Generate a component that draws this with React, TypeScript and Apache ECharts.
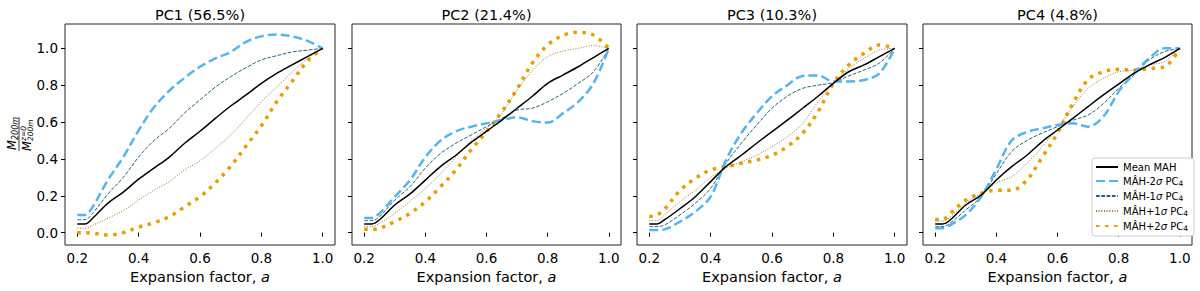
import React, { useEffect, useRef } from "react";
import * as echarts from "echarts";

const A = [0.2, 0.225, 0.25, 0.3, 0.35, 0.4, 0.45, 0.5, 0.55, 0.6, 0.65, 0.7, 0.75, 0.8, 0.85, 0.9, 0.95, 1.0];

const titles = ["PC1 (56.5%)", "PC2 (21.4%)", "PC3 (10.3%)", "PC4 (4.8%)"];
const seriesNames = ["Mean MAH", "MÂH-2σ PC4", "MÂH-1σ PC4", "MÂH+1σ PC4", "MÂH+2σ PC4"];
const xTicks = [0.2, 0.4, 0.6, 0.8, 1.0];
const yTicks = [0, 0.2, 0.4, 0.6, 0.8, 1.0];

// PC1
const pc1Mean = [0.047, 0.047, 0.078, 0.16, 0.22, 0.29, 0.35, 0.41, 0.485, 0.55, 0.62, 0.687, 0.747, 0.81, 0.864, 0.91, 0.955, 1.0];
const pc1M2 = [0.096, 0.096, 0.14, 0.286, 0.41, 0.555, 0.68, 0.77, 0.84, 0.9, 0.945, 0.98, 1.035, 1.065, 1.075, 1.065, 1.04, 1.0];
const pc1M1 = [0.07, 0.07, 0.105, 0.21, 0.3, 0.41, 0.5, 0.566, 0.65, 0.72, 0.79, 0.846, 0.895, 0.937, 0.96, 0.98, 0.99, 1.0];
const pc1P1 = [0.024, 0.024, 0.04, 0.078, 0.12, 0.177, 0.23, 0.277, 0.34, 0.39, 0.457, 0.53, 0.62, 0.71, 0.79, 0.87, 0.945, 1.0];
const pc1P2 = [0.0, 0.0, -0.003, -0.013, 0.0, 0.03, 0.054, 0.087, 0.14, 0.195, 0.27, 0.36, 0.47, 0.58, 0.71, 0.82, 0.93, 1.0];

// PC2
const pc2Mean = [0.047, 0.047, 0.07, 0.15, 0.21, 0.285, 0.36, 0.42, 0.49, 0.55, 0.61, 0.675, 0.74, 0.81, 0.855, 0.9, 0.95, 1.0];
const pc2M2 = [0.08, 0.08, 0.105, 0.195, 0.285, 0.41, 0.5, 0.55, 0.575, 0.593, 0.61, 0.626, 0.605, 0.597, 0.647, 0.71, 0.81, 1.0];
const pc2M1 = [0.065, 0.065, 0.087, 0.177, 0.25, 0.35, 0.43, 0.485, 0.53, 0.575, 0.62, 0.665, 0.675, 0.71, 0.755, 0.81, 0.873, 1.0];
const pc2P1 = [0.033, 0.033, 0.05, 0.105, 0.17, 0.24, 0.32, 0.41, 0.5, 0.566, 0.647, 0.774, 0.88, 0.955, 0.985, 1.0, 1.015, 1.0];
const pc2P2 = [0.018, 0.018, 0.024, 0.06, 0.105, 0.168, 0.25, 0.34, 0.45, 0.548, 0.656, 0.78, 0.92, 1.018, 1.07, 1.087, 1.072, 1.0];

// PC3
const pc3Mean = [0.047, 0.047, 0.07, 0.13, 0.195, 0.277, 0.358, 0.42, 0.485, 0.548, 0.61, 0.675, 0.74, 0.81, 0.873, 0.91, 0.955, 1.0];
const pc3M2 = [0.014, 0.014, 0.018, 0.06, 0.114, 0.195, 0.394, 0.54, 0.647, 0.74, 0.8, 0.85, 0.853, 0.82, 0.82, 0.828, 0.864, 1.0];
const pc3M1 = [0.033, 0.033, 0.042, 0.096, 0.16, 0.24, 0.376, 0.485, 0.584, 0.675, 0.74, 0.783, 0.8, 0.814, 0.85, 0.882, 0.92, 1.0];
const pc3P1 = [0.065, 0.065, 0.096, 0.168, 0.23, 0.3, 0.35, 0.385, 0.42, 0.467, 0.52, 0.593, 0.71, 0.81, 0.89, 0.946, 0.99, 1.0];
const pc3P2 = [0.087, 0.096, 0.128, 0.228, 0.295, 0.34, 0.358, 0.376, 0.394, 0.42, 0.467, 0.54, 0.656, 0.81, 0.91, 0.973, 1.018, 1.0];

// PC4
const pc4Mean = [0.047, 0.047, 0.07, 0.15, 0.204, 0.286, 0.358, 0.42, 0.494, 0.557, 0.62, 0.684, 0.747, 0.806, 0.864, 0.91, 0.95, 1.0];
const pc4M2 = [0.024, 0.024, 0.042, 0.096, 0.195, 0.345, 0.5, 0.546, 0.566, 0.584, 0.593, 0.575, 0.63, 0.765, 0.864, 0.946, 1.0, 1.0];
const pc4M1 = [0.033, 0.033, 0.054, 0.123, 0.195, 0.32, 0.44, 0.5, 0.54, 0.575, 0.61, 0.638, 0.7, 0.783, 0.855, 0.937, 0.982, 1.0];
const pc4P1 = [0.063, 0.063, 0.087, 0.16, 0.213, 0.27, 0.304, 0.376, 0.467, 0.566, 0.684, 0.783, 0.837, 0.873, 0.882, 0.91, 0.928, 1.0];
const pc4P2 = [0.072, 0.072, 0.105, 0.177, 0.213, 0.23, 0.23, 0.286, 0.41, 0.54, 0.7, 0.83, 0.873, 0.886, 0.882, 0.89, 0.9, 1.0];

const panels = [
  [pc1Mean, pc1M2, pc1M1, pc1P1, pc1P2],
  [pc2Mean, pc2M2, pc2M1, pc2P1, pc2P2],
  [pc3Mean, pc3M2, pc3M1, pc3P1, pc3P2],
  [pc4Mean, pc4M2, pc4M1, pc4P1, pc4P2],
];

const FONT = "DejaVu Sans";
const lineStyles = [
  { color: "#000000", width: 1.5, type: "solid" },
  { color: "#56B4E9", width: 2.5, type: [9, 4] },
  { color: "#2a5d85", width: 1, type: [3.7, 1.6] },
  { color: "#9a7530", width: 1, type: [1, 1.65] },
  { color: "#E69F00", width: 3.5, type: [3.5, 5.5] },
];

const grids = [
  { left: 65, width: 270 },
  { left: 352, width: 269 },
  { left: 637, width: 270 },
  { left: 923, width: 269 },
];
const GTOP = 24;
const GH = 221;

function legendFmt(name: string) {
  if (name === "Mean MAH") return "{t|Mean MAH}";
  const m = name.match(/^(.*?)σ PC4$/);
  if (!m) return name;
  return "{t|" + m[1] + "}{i|σ}{t| PC}{s|4}";
}

export default function App() {
  const ref = useRef<HTMLDivElement>(null);
  useEffect(() => {
    document.body.style.margin = "0";
    const chart = echarts.init(ref.current!, null, { renderer: "svg" });

    const series: any[] = [];
    panels.forEach((p, gi) => {
      p.forEach((vals, si) => {
        series.push({
          type: "line",
          name: seriesNames[si],
          xAxisIndex: gi,
          yAxisIndex: gi,
          data: A.map((a, k) => [a, vals[k]]),
          smooth: 0.35,
          symbol: "none",
          color: lineStyles[si].color,
          itemStyle: { color: lineStyles[si].color },
          lineStyle: lineStyles[si],
          z: 10 - si,
        });
      });
    });

    const ylab = (t: string, x: number, y: number, size: number, va: string) => ({
      type: "text",
      x,
      y,
      style: { text: t, fontFamily: FONT, fontStyle: "italic", fontSize: size, fill: "#000", verticalAlign: va },
    });

    const option: any = {
      animation: false,
      backgroundColor: "#ffffff",
      textStyle: { fontFamily: FONT },
      grid: grids.map((g) => ({
        left: g.left,
        width: g.width,
        top: GTOP,
        height: GH,
        show: true,
        borderColor: "#222",
        borderWidth: 1,
        backgroundColor: "transparent",
      })),
      xAxis: grids.map((g, gi) => ({
        type: "value",
        gridIndex: gi,
        min: 0.16,
        max: 1.04,
        axisLine: { show: false },
        splitLine: { show: false },
        axisTick: { show: true, length: 4, customValues: xTicks, lineStyle: { color: "#000" } },
        axisLabel: {
          customValues: xTicks,
          formatter: (v: number) => v.toFixed(1),
          color: "#000",
          fontSize: 13.5,
          fontFamily: FONT,
          margin: 6,
        },
        name: "Expansion factor, {i|a}",
        nameLocation: "middle",
        nameGap: 22,
        nameTextStyle: {
          fontSize: 14.5,
          color: "#000",
          fontFamily: FONT,
          rich: { i: { fontStyle: "italic", fontSize: 14.5, fontFamily: FONT, color: "#000" } },
        },
      })),
      yAxis: grids.map((g, gi) => ({
        type: "value",
        gridIndex: gi,
        min: -0.067,
        max: 1.132,
        axisLine: { show: false },
        splitLine: { show: false },
        axisTick: { show: true, length: 4, customValues: yTicks, lineStyle: { color: "#000" } },
        axisLabel: {
          show: gi === 0,
          customValues: yTicks,
          formatter: (v: number) => v.toFixed(1),
          color: "#000",
          fontSize: 13.5,
          fontFamily: FONT,
          margin: 7,
        },
      })),
      legend: {
        data: seriesNames,
        orient: "vertical",
        left: 1092,
        top: 158,
        itemWidth: 22,
        itemHeight: 8,
        itemGap: 4,
        padding: [4, 6, 4, 3],
        backgroundColor: "#ffffff",
        borderColor: "#cccccc",
        borderWidth: 1,
        borderRadius: 3,
        selectedMode: false,
        itemStyle: { opacity: 0 },
        formatter: legendFmt,
        textStyle: {
          fontFamily: FONT,
          fontSize: 10,
          color: "#000",
          rich: {
            t: { fontSize: 10, fontFamily: FONT, color: "#000", lineHeight: 12 },
            i: { fontSize: 10, fontFamily: FONT, color: "#000", fontStyle: "italic", lineHeight: 12 },
            s: { fontSize: 7.5, fontFamily: FONT, color: "#000", lineHeight: 12, verticalAlign: "bottom" },
          },
        },
      },
      graphic: [
        ...grids.map((g, gi) => ({
          type: "text",
          x: g.left + g.width / 2,
          y: 15,
          style: {
            text: titles[gi],
            fontFamily: FONT,
            fontSize: 14.5,
            fill: "#000",
            align: "center",
            verticalAlign: "middle",
          },
        })),
        {
          type: "group",
          x: 19,
          y: 134,
          rotation: Math.PI / 2,
          children: [
            { type: "line", shape: { x1: -17, y1: 0, x2: 17, y2: 0 }, style: { stroke: "#000", lineWidth: 0.8 } },
            ylab("M", -16, -1.5, 11.5, "bottom"),
            ylab("200m", -6, 0.5, 8, "bottom"),
            ylab("M", -17, 1.5, 11.5, "top"),
            ylab("z=0", -7, 0.5, 7.5, "top"),
            ylab("200m", -7, 7, 7.5, "top"),
          ],
        },
      ],
      series,
    };
    chart.setOption(option);
    return () => chart.dispose();
  }, []);
  return <div ref={ref} style={{ width: 1200, height: 291 }} />;
}
